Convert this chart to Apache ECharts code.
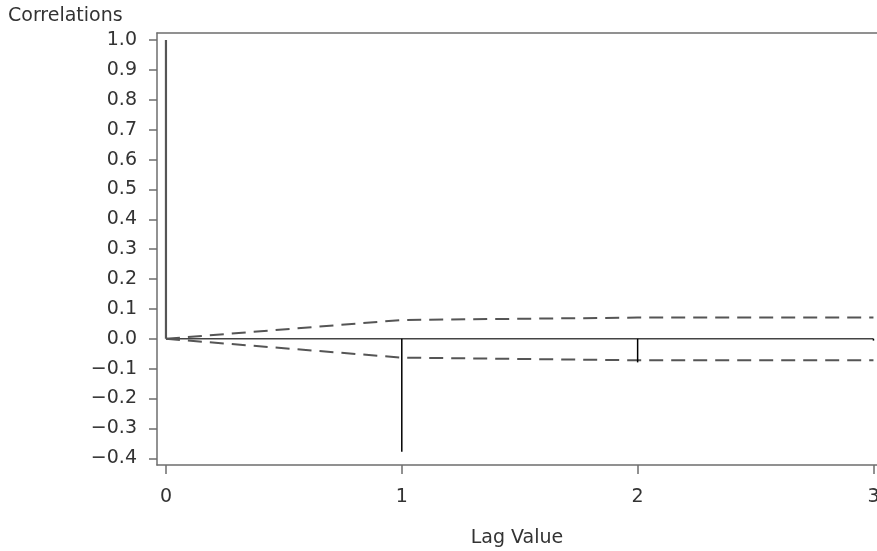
<!DOCTYPE html>
<html>
<head>
<meta charset="utf-8">
<script src="https://cdn.jsdelivr.net/npm/echarts@6/dist/echarts.min.js"></script>
<style>html,body{margin:0;padding:0;background:#fff;overflow:hidden}#c{width:877px;height:551px}</style>
</head>
<body>
<div id="c"></div>
<script>
var lags = [0, 1, 2, 3];
var correlations = [1.0, -0.378, -0.079, -0.006];
var upperBand = [0, 0.063, 0.071, 0.071];
var lowerBand = [0, -0.063, -0.072, -0.072];
var xTicks = [0, 1, 2, 3];
var yTicks = [-0.4, -0.3, -0.2, -0.1, 0.0, 0.1, 0.2, 0.3, 0.4, 0.5, 0.6, 0.7, 0.8, 0.9, 1.0];
var yTitle = 'Correlations';
var xTitle = 'Lag Value';

var FONT = 'DejaVu Sans';
function fmt(v) {
  var s = Math.abs(v).toFixed(1);
  return (v < -1e-9 ? '\u2212' : '') + s;
}
function pairs(ys) { return lags.map(function (l, i) { return [l, ys[i]]; }); }

var chart = echarts.init(document.getElementById('c'), null, { width: 877, height: 551 });
chart.setOption({
  animation: false,
  backgroundColor: '#fff',
  grid: { left: 157, right: 0, top: 33, bottom: 86, containLabel: false, outerBoundsMode: 'none' },
  xAxis: [{
    type: 'value', min: -0.038, max: 3.015, position: 'bottom',
    axisLine: { show: true, onZero: false, lineStyle: { color: '#6e6e6e', width: 1.5 } },
    axisTick: { show: true, customValues: xTicks, length: 9, inside: false, lineStyle: { color: '#6e6e6e', width: 1.5 } },
    axisLabel: { customValues: xTicks, fontFamily: FONT, fontSize: 19, color: '#333', margin: 23, formatter: function (v) { return String(Math.round(v)); } },
    splitLine: { show: false },
    name: xTitle, nameLocation: 'middle', nameGap: 64,
    nameTextStyle: { fontFamily: FONT, fontSize: 19, color: '#333' }
  }, {
    type: 'value', min: -0.038, max: 3.015, position: 'top',
    axisLine: { show: true, onZero: false, lineStyle: { color: '#6e6e6e', width: 1.5 } },
    axisTick: { show: false }, axisLabel: { show: false }, splitLine: { show: false }
  }],
  yAxis: {
    type: 'value', min: -0.4225, max: 1.0238,
    axisLine: { show: true, onZero: false, lineStyle: { color: '#6e6e6e', width: 1.5 } },
    axisTick: { show: true, customValues: yTicks, length: 8, lineStyle: { color: '#6e6e6e', width: 1.5 } },
    axisLabel: { customValues: yTicks, fontFamily: FONT, fontSize: 19, color: '#333', margin: 20, formatter: fmt },
    splitLine: { show: false }
  },
  graphic: [{
    type: 'text', left: 8, top: 7,
    style: { text: yTitle, font: '19px "DejaVu Sans"', fill: '#333' }
  }],
  series: [
    {
      type: 'line', data: [[lags[0], 0], [lags[lags.length - 1], 0]], symbol: 'none',
      lineStyle: { color: '#444', width: 1.5 }, z: 2
    },
    {
      type: 'line', data: pairs(upperBand), symbol: 'none',
      lineStyle: { color: '#555', width: 2, type: [14, 8] }, z: 3
    },
    {
      type: 'line', data: pairs(lowerBand), symbol: 'none',
      lineStyle: { color: '#555', width: 2, type: [14, 8] }, z: 3
    },
    {
      type: 'custom', z: 4,
      data: pairs(correlations),
      renderItem: function (params, api) {
        var x = api.value(0), y = api.value(1);
        var p0 = api.coord([x, 0]), p1 = api.coord([x, y]);
        var first = params.dataIndex === 0;
        return {
          type: 'line',
          shape: { x1: p0[0], y1: p0[1], x2: p1[0], y2: p1[1] },
          style: { stroke: first ? '#555' : '#000', lineWidth: first ? 2.2 : 1.5 }
        };
      }
    }
  ]
});
</script>
</body>
</html>
